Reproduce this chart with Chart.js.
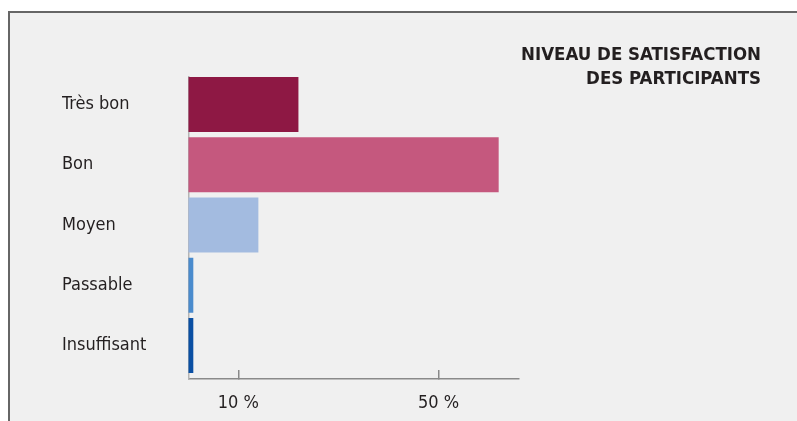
<!DOCTYPE html>
<html>
<head>
<meta charset="utf-8">
<script src="https://cdn.jsdelivr.net/npm/chart.js@4/dist/chart.umd.min.js"></script>
<style>
  html, body { margin: 0; padding: 0; background: #fff; overflow: hidden; }
  #frame {
    position: absolute; left: 8px; top: 11px; width: 789px; height: 410px;
    border-left: 2px solid #666; border-top: 2px solid #666;
    background: #f0f0f0;
  }
  #chart { display: block; }
</style>
</head>
<body>
<div id="frame">
  <canvas id="chart" width="787" height="408"></canvas>
</div>
<script>
// Data
const categories = ['Très bon', 'Bon', 'Moyen', 'Passable', 'Insuffisant'];
const percentages = [22, 62, 14, 1, 1];
const barColors = ['#8e1844', '#c5587e', '#a3bbe0', '#4a8bcd', '#0a4fa3'];
const xTicks = [10, 50];
const titleLines = ['NIVEAU DE SATISFACTION', 'DES PARTICIPANTS'];

const narrow = "'Liberation Sans Narrow', 'DejaVu Sans Condensed', sans-serif";
const textColor = '#231f20';

const ctx = document.getElementById('chart').getContext('2d');

new Chart(ctx, {
    type: 'bar',
    data: {
        datasets: [{
            data: percentages.map((v, i) => ({ x: v, y: i })),
            backgroundColor: barColors,
            borderWidth: 0,
            categoryPercentage: 1,
            barPercentage: 0.913
        }]
    },
    options: {
        indexAxis: 'y',
        responsive: false,
        animation: false,
        layout: { padding: { left: 52, right: 36, top: 0, bottom: 0 } },
        scales: {
            x: {
                type: 'linear',
                bounds: 'data',
                min: 0,
                max: 66,
                afterBuildTicks: (scale) => { scale.ticks = xTicks.map(v => ({ value: v })); },
                afterFit: (scale) => { scale.height = 42; },
                grid: {
                    drawOnChartArea: false,
                    tickLength: -9,
                    color: '#8a8a8a',
                    lineWidth: 1.5
                },
                border: { color: '#8a8a8a', width: 1.5 },
                ticks: {
                    padding: 23,
                    color: textColor,
                    font: { family: narrow, size: 18 },
                    callback: (v) => v + ' %'
                }
            },
            y: {
                type: 'linear',
                bounds: 'data',
                offset: false,
                reverse: true,
                min: -0.456,
                max: 4.556,
                afterBuildTicks: (scale) => { scale.ticks = categories.map((c, i) => ({ value: i })); },
                afterFit: (scale) => { scale.width = 126.3; },
                grid: { display: false, offset: false },
                border: { color: '#b4b4b4', width: 1.5 },
                ticks: {
                    crossAlign: 'far',
                    color: textColor,
                    font: { family: narrow, size: 18 },
                    callback: (v) => categories[v]
                }
            },
            // empty right-hand axis, only keeps room for the title column
            side: {
                type: 'linear',
                position: 'right',
                afterFit: (scale) => { scale.width = 242.3; },
                grid: { display: false },
                border: { display: false },
                ticks: { display: false }
            }
        },
        plugins: {
            legend: { display: false },
            tooltip: { enabled: false },
            title: {
                display: true,
                text: titleLines,
                align: 'end',
                color: textColor,
                font: { family: narrow, size: 18.5, weight: 'bold', lineHeight: '24px' },
                padding: { top: 30, bottom: -14 }
            }
        }
    }
});
</script>
</body>
</html>
